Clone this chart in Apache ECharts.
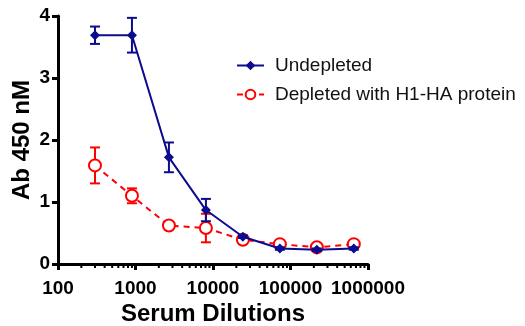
<!DOCTYPE html>
<html>
<head>
<meta charset="utf-8">
<script src="https://cdn.jsdelivr.net/npm/echarts@6/dist/echarts.min.js"></script>
<style>
  html, body { margin: 0; padding: 0; background: #fff; }
  #chart { width: 525px; height: 326px; }
</style>
</head>
<body>
<div id="chart"></div>
<script>
// serum dilutions (3-fold series)
const dilutions = [300, 900, 2700, 8100, 24300, 72900, 218700, 656100]

const undepleted = [3.69, 3.69, 1.72, 0.87, 0.44, 0.25, 0.23, 0.25]
const undepletedErr = [0.14, 0.28, 0.24, 0.18, 0.02, 0.02, 0.02, 0.02]

const depleted = [1.59, 1.10, 0.62, 0.58, 0.39, 0.32, 0.27, 0.32]
const depletedErr = [0.29, 0.12, 0.02, 0.23, 0.02, 0.02, 0.02, 0.02]

// minor ticks of the log axis
const minorTicks = []
;[100, 1000, 10000, 100000].forEach(d => {
  for (let k = 2; k <= 9; k++) minorTicks.push(d * k)
})

const NAVY = '#0c0c8e'
const RED = '#ff0000'
const FONT = 'Arial, "Liberation Sans", sans-serif'

function errBars(vals, errs) {
  return dilutions.map((d, i) => [d, vals[i] - errs[i], vals[i] + errs[i]])
}

function errRender(color) {
  return function (params, api) {
    const x = api.value(0)
    const lo = api.coord([x, api.value(1)])
    const hi = api.coord([x, api.value(2)])
    const w = 5
    const style = { stroke: color, lineWidth: 2 }
    return {
      type: 'group',
      children: [
        { type: 'line', shape: { x1: lo[0], y1: lo[1], x2: hi[0], y2: hi[1] }, style },
        { type: 'line', shape: { x1: lo[0] - w, y1: lo[1], x2: lo[0] + w, y2: lo[1] }, style },
        { type: 'line', shape: { x1: hi[0] - w, y1: hi[1], x2: hi[0] + w, y2: hi[1] }, style }
      ]
    }
  }
}

const chart = echarts.init(document.getElementById('chart'))
chart.setOption({
  animation: false,
  textStyle: { fontFamily: FONT },
  grid: { left: 58, right: 157, top: 16, bottom: 62, outerBoundsMode: 'none' },
  legend: {
    orient: 'vertical',
    left: 231,
    top: 51,
    itemGap: 10,
    itemWidth: 27,
    itemHeight: 12,
    textStyle: { fontFamily: FONT, fontSize: 19, color: '#111', padding: [0, 0, 0, 6] },
    data: ['Undepleted', 'Depleted with H1-HA protein']
  },
  xAxis: {
    type: 'log',
    logBase: 10,
    min: 100,
    max: 1000000,
    name: 'Serum Dilutions',
    nameLocation: 'middle',
    nameGap: 38,
    nameMoveOverlap: false,
    nameTextStyle: { fontFamily: FONT, fontSize: 24, fontWeight: 'bold', color: '#000' },
    axisLine: { lineStyle: { color: '#000', width: 3 } },
    axisTick: { inside: false, length: 6, lineStyle: { color: '#000', width: 3 } },
    axisLabel: {
      color: '#000',
      fontFamily: FONT,
      fontSize: 19,
      fontWeight: 'bold',
      margin: 15,
      formatter: v => String(Math.round(v))
    },
    splitLine: { show: false },
    minorTick: { show: false }
  },
  yAxis: {
    type: 'value',
    min: 0,
    max: 4,
    interval: 1,
    name: 'Ab 450 nM',
    nameLocation: 'middle',
    nameRotate: 90,
    nameGap: 24,
    nameMoveOverlap: false,
    nameTextStyle: { fontFamily: FONT, fontSize: 24, fontWeight: 'bold', color: '#000' },
    axisLine: { show: true, lineStyle: { color: '#000', width: 3 } },
    axisTick: { show: true, length: 6, lineStyle: { color: '#000', width: 3 } },
    axisLabel: { color: '#000', fontFamily: FONT, fontSize: 19, fontWeight: 'bold', margin: 8 },
    splitLine: { show: false }
  },
  series: [
    {
      name: 'minorTicks',
      type: 'custom',
      silent: true,
      clip: false,
      data: minorTicks.map(v => [v, 0]),
      renderItem: function (params, api) {
        const p = api.coord([api.value(0), 0])
        return {
          type: 'line',
          shape: { x1: p[0], y1: p[1], x2: p[0], y2: p[1] + 4 },
          style: { stroke: '#000', lineWidth: 2 }
        }
      }
    },
    {
      name: 'depErr',
      type: 'custom',
      data: errBars(depleted, depletedErr),
      renderItem: errRender(RED),
      z: 2
    },
    {
      name: 'Depleted with H1-HA protein',
      type: 'line',
      data: dilutions.map((d, i) => [d, depleted[i]]),
      symbol: 'emptyCircle',
      symbolSize: 12,
      color: RED,
      lineStyle: { color: RED, width: 2, type: [6, 5] },
      itemStyle: { color: RED, borderColor: RED, borderWidth: 2 },
      z: 3
    },
    {
      name: 'Undepleted',
      type: 'line',
      data: dilutions.map((d, i) => [d, undepleted[i]]),
      symbol: 'diamond',
      symbolSize: 10,
      color: NAVY,
      lineStyle: { color: NAVY, width: 2 },
      itemStyle: { color: NAVY },
      z: 4
    },
    {
      name: 'undepErr',
      type: 'custom',
      data: errBars(undepleted, undepletedErr),
      renderItem: errRender(NAVY),
      z: 4
    }
  ]
})
</script>
</body>
</html>
